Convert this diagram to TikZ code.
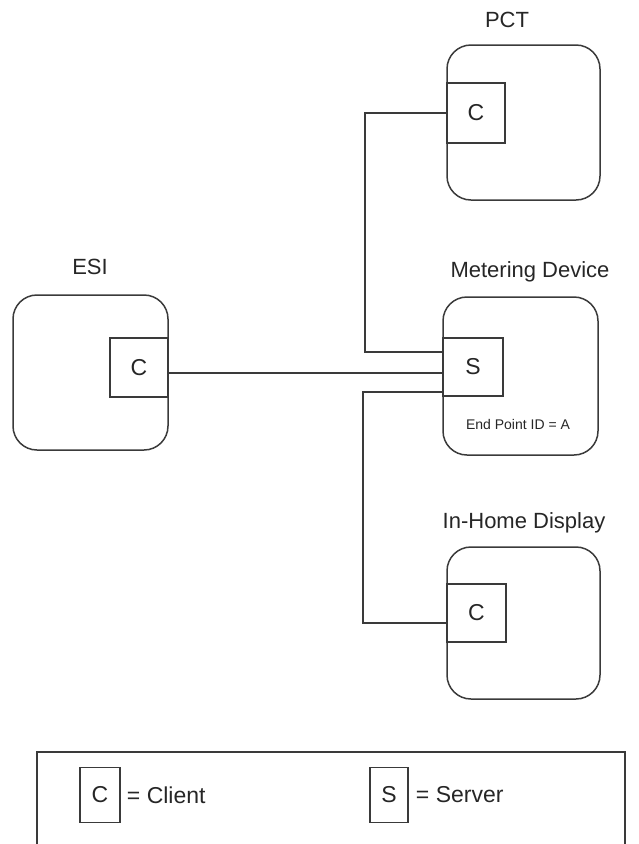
\documentclass[tikz,border=0pt]{standalone}
\usepackage{fontspec}
\setmainfont{Liberation Sans}
\usetikzlibrary{positioning,calc}
\definecolor{Ink}{HTML}{262626}
\definecolor{Edge}{HTML}{3A3A3A}
\tikzset{
  device/.style={draw=Edge,line width=1.5pt,rounded corners=24pt,minimum width=155pt,minimum height=155pt,inner sep=0pt},
  role/.style={draw=Edge,line width=1.5pt,fill=white,minimum width=58pt,minimum height=58pt,inner sep=0pt,font=\fontsize{23}{23}\selectfont,text=Ink},
  title/.style={font=\fontsize{22}{22}\selectfont,text=Ink,inner sep=0pt},
  keytext/.style={font=\fontsize{23}{23}\selectfont,text=Ink,inner sep=0pt},
  link/.style={draw=Edge,line width=1.5pt}
}
\begin{document}
\begin{tikzpicture}[x=1pt,y=-1pt]
  \useasboundingbox (0,0) rectangle (639,844);
  % devices
  \node[device] (esi) at (90.5,372.5) {};
  \node[device,minimum width=153pt] (pct) at (523.5,122.5) {};
  \node[device,minimum height=158pt] (meter) at (520.5,376) {};
  \node[device,minimum width=153pt,minimum height=152pt] (ihd) at (523.5,623) {};
  \node[title] at (90,267) {ESI};
  \node[title] at (507,20) {PCT};
  \node[title] at (530,272) {Metering Device};
  \node[title] at (524,523) {In-Home Display};
  \node[font=\fontsize{14}{14}\selectfont,text=Ink] at (518,424) {End Point ID = A};
  % clients and server
  \node[role,minimum height=59pt] (esiC) at (139,367.5) {C};
  \node[role,minimum height=60pt] (pctC) at (476,113) {C};
  \node[role,minimum width=60pt] (sv) at (473,367) {S};
  \node[role,minimum width=59pt] (ihdC) at (476.5,613) {C};
  % links
  \coordinate (busA) at (365,352);
  \coordinate (busB) at (363,392);
  \draw[link] (pctC.west) -| (busA) -- (sv.west |- busA);
  \draw[link] ([yshift=-5.5pt]esiC.east) -- ([yshift=-5.5pt]esiC.east -| sv.west);
  \draw[link] (sv.west |- busB) -- (busB) |- ([yshift=-10pt]ihdC.west);
  % legend
  \node[draw=Edge,line width=1.5pt,minimum width=588pt,minimum height=98pt,inner sep=0pt] (legend) at (331,801) {};
  \node[role,minimum width=40pt,minimum height=55pt] (keyC) at (100,795) {C};
  \node[keytext,right=6pt of keyC] (keyCtext) {= Client};
  \node[role,minimum width=38pt,minimum height=55pt] (keyS) at (389,795) {S};
  \node[keytext,right=7pt of keyS] (keyStext) {= Server};
\end{tikzpicture}
\end{document}
